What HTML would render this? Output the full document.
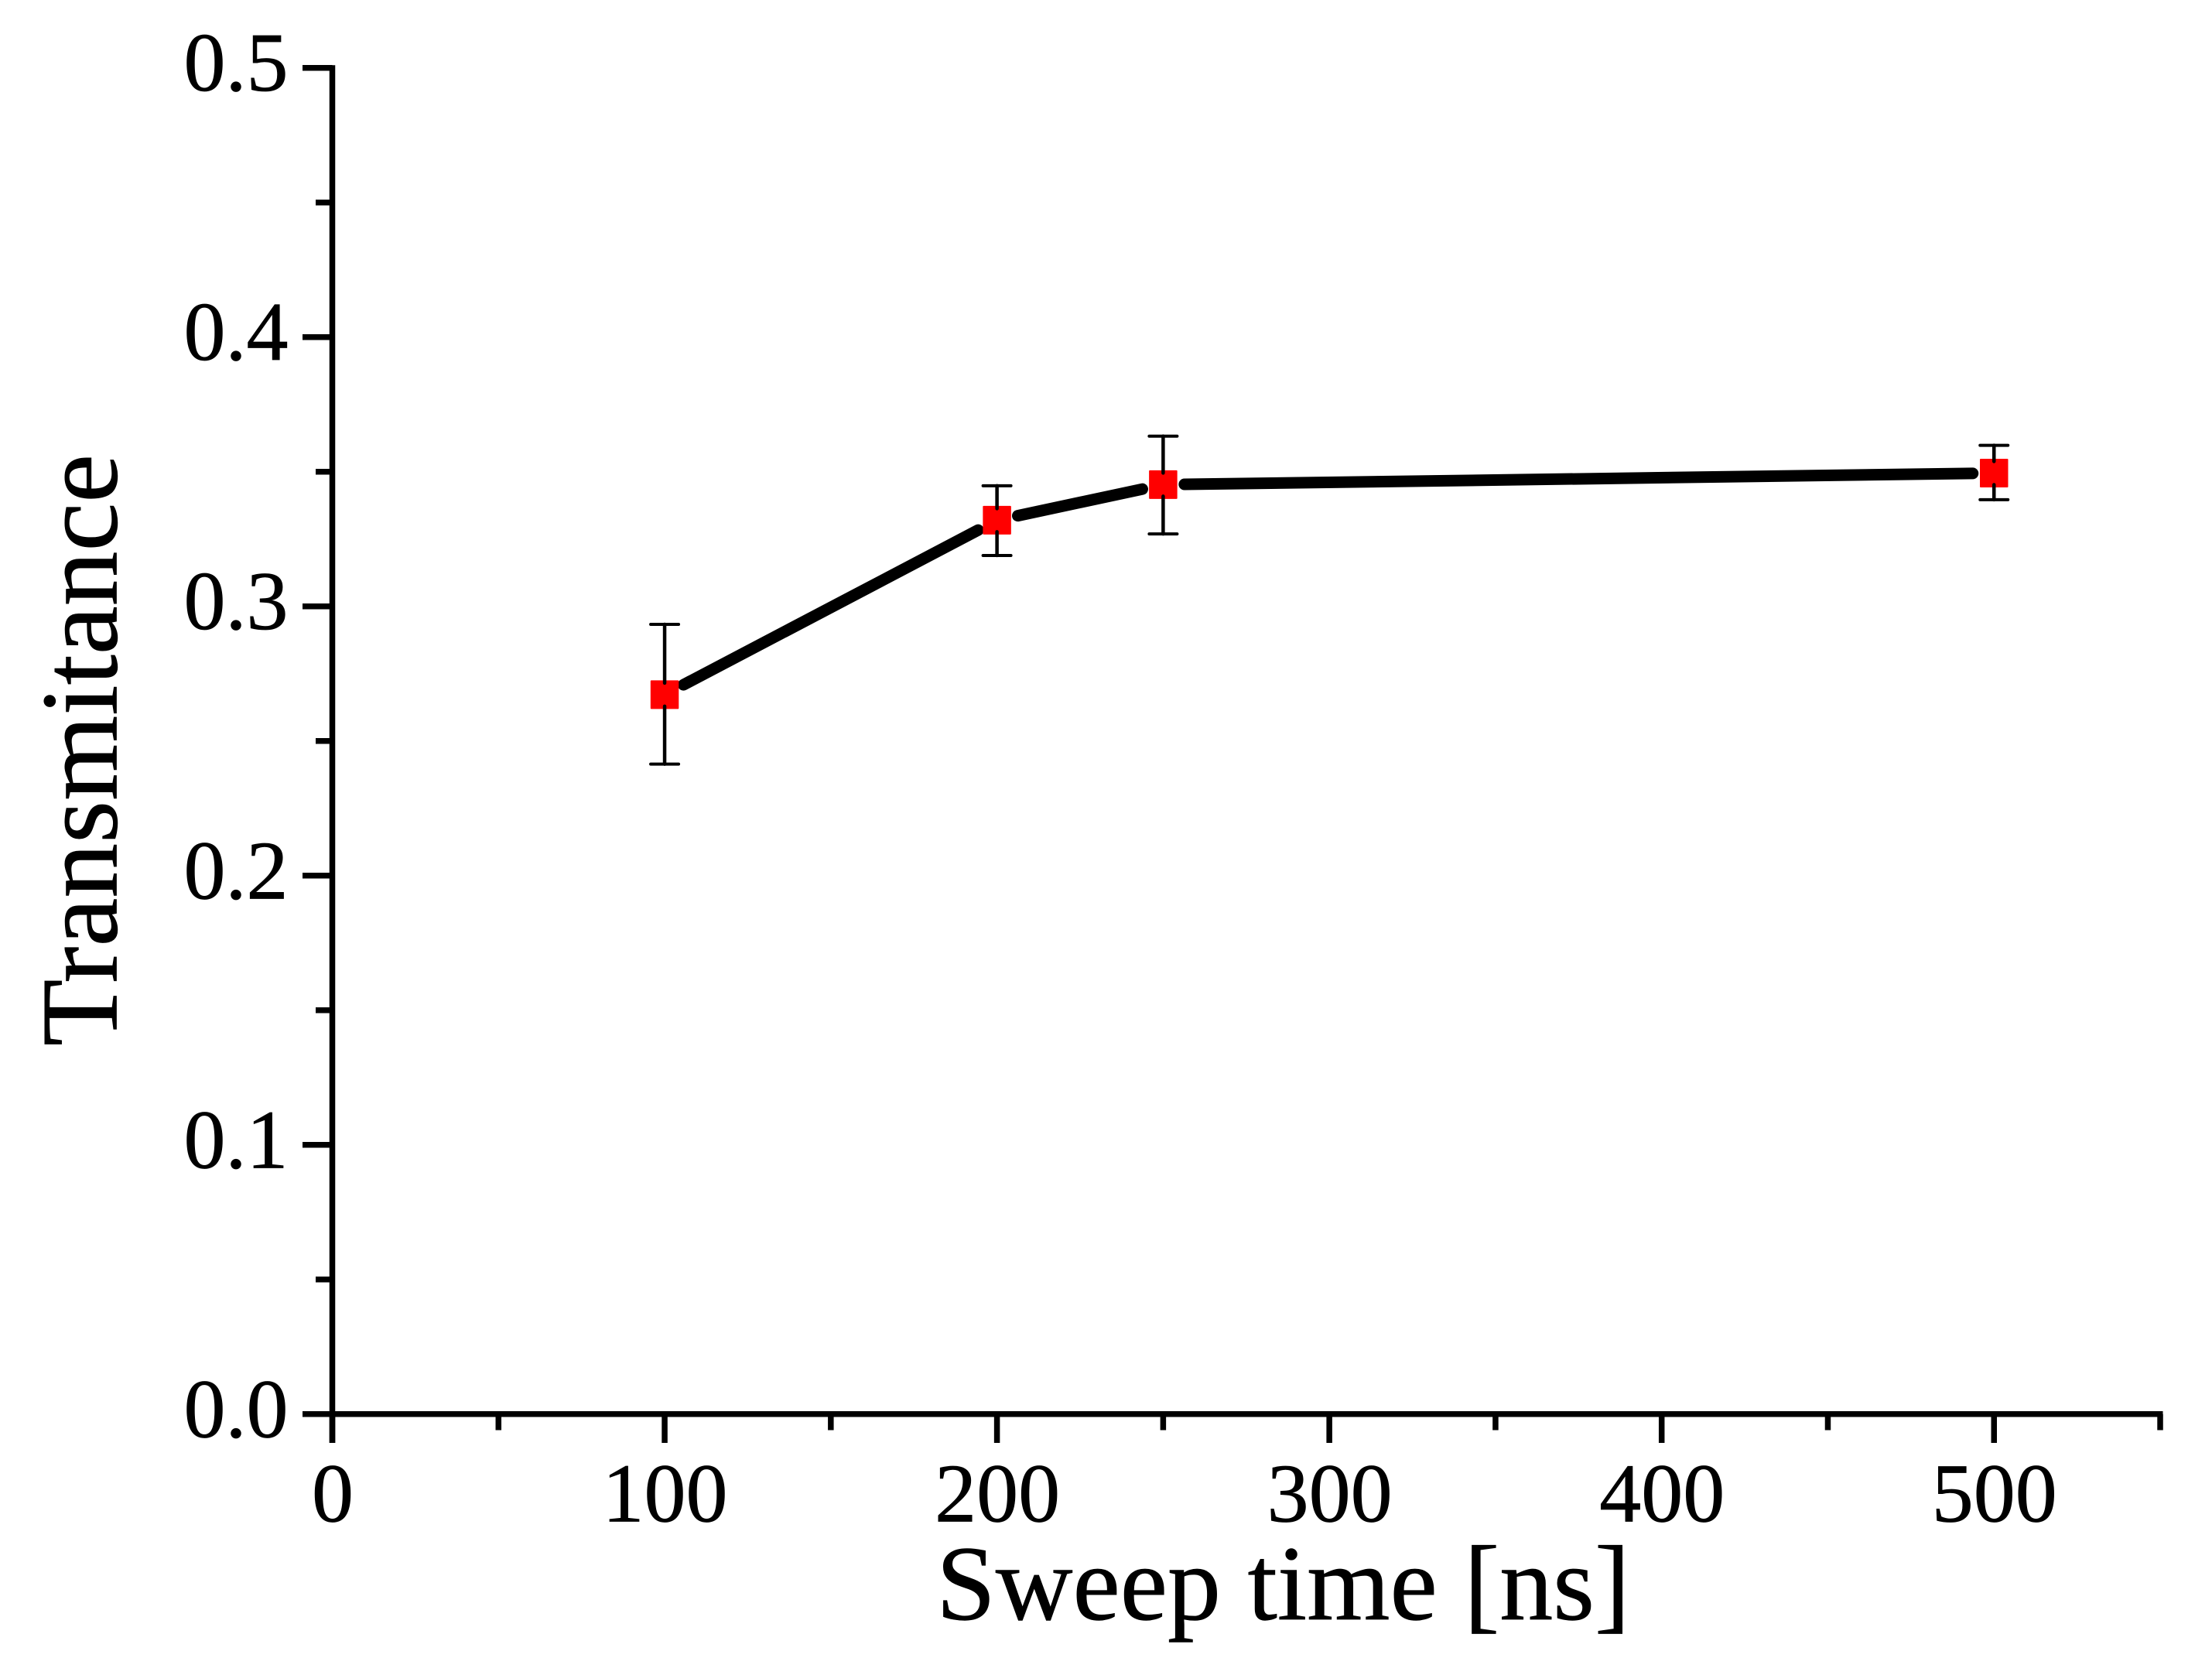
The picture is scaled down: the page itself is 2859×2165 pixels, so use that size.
<!DOCTYPE html>
<html lang="en">
<head>
<meta charset="utf-8">
<title>Transmitance vs Sweep time</title>
<style>
html,body{margin:0;padding:0;background:#fff;}
svg{display:block;}
text{font-family:"Liberation Serif","Times New Roman",serif;fill:#000;stroke:#000;stroke-width:0.7;}
</style>
</head>
<body>
<svg id="chart" xmlns="http://www.w3.org/2000/svg" width="2859" height="2165" viewBox="0 0 2859 2165" shape-rendering="geometricPrecision">
  <rect x="0" y="0" width="2859" height="2165" fill="#ffffff"/>
  <g id="axes"></g>
  <g id="series"></g>
  <text x="1658.5" y="2093" font-size="138" text-anchor="middle">Sweep time [ns]</text>
  <text transform="translate(150.5 969.5) rotate(-90)" font-size="141.5" text-anchor="middle">Transmitance</text>
</svg>
<script>
const sweepTimes = [100, 200, 250, 500];
const transmitance = [0.2672, 0.3320, 0.3452, 0.3495];
const errorUpper = [0.2933, 0.3448, 0.3632, 0.3598];
const errorLower = [0.2414, 0.3189, 0.3269, 0.3396];
const xMajorTicks = [0, 100, 200, 300, 400, 500];
const xMinorTicks = [50, 150, 250, 350, 450, 550];
const yMajorTicks = [0, 0.1, 0.2, 0.3, 0.4, 0.5];
const yMinorTicks = [0.05, 0.15, 0.25, 0.35, 0.45];
const xTickLabels = ['0', '100', '200', '300', '400', '500'];
const yTickLabels = ['0.0', '0.1', '0.2', '0.3', '0.4', '0.5'];

const NS = 'http://www.w3.org/2000/svg';
const axesGroup = document.getElementById('axes');
const seriesGroup = document.getElementById('series');

function xScale(v) { return 429.5 + v * 4.2955; }
function yScale(v) { return 1827.8 - v * 3480.2; }

function makeLine(parent, x1, y1, x2, y2, width, cap) {
  const el = document.createElementNS(NS, 'line');
  el.setAttribute('x1', x1);
  el.setAttribute('y1', y1);
  el.setAttribute('x2', x2);
  el.setAttribute('y2', y2);
  el.setAttribute('stroke', '#000');
  el.setAttribute('stroke-width', width);
  el.setAttribute('stroke-linecap', cap);
  parent.appendChild(el);
  return el;
}

function makeText(parent, x, y, anchor, content) {
  const el = document.createElementNS(NS, 'text');
  el.setAttribute('x', x);
  el.setAttribute('y', y);
  el.setAttribute('font-size', '108');
  el.setAttribute('text-anchor', anchor);
  el.textContent = content;
  parent.appendChild(el);
  return el;
}

const yAxisLine = makeLine(axesGroup, xScale(0), yScale(0.5) - 3.5, xScale(0), 1865, 7.5, 'butt');



const xAxisLine = makeLine(axesGroup, 391, yScale(0), xScale(550) + 3.5, yScale(0), 7.5, 'butt');



yMajorTicks.forEach(function (v, i) {
  const y = yScale(v);
  const tick = makeLine(axesGroup, 391, y, xScale(0), y, 7.5, 'butt');
  
  
  const label = makeText(axesGroup, 372.5, y + 29.5, 'end', yTickLabels[i]);
  
  
});

yMinorTicks.forEach(function (v) {
  const y = yScale(v);
  const tick = makeLine(axesGroup, 408, y, xScale(0), y, 7.5, 'butt');
  
  
});

xMajorTicks.forEach(function (v, i) {
  const x = xScale(v);
  const tick = makeLine(axesGroup, x, yScale(0), x, 1865, 7.5, 'butt');
  
  
  const label = makeText(axesGroup, x + 0.5, 1966.5, 'middle', xTickLabels[i]);
  
  
});

xMinorTicks.forEach(function (v) {
  const x = xScale(v);
  const tick = makeLine(axesGroup, x, yScale(0), x, 1848.5, 7.5, 'butt');
  
  
});

const markerGap = 27.5;
for (let i = 0; i < sweepTimes.length - 1; i++) {
  const x1 = xScale(sweepTimes[i]);
  const y1 = yScale(transmitance[i]);
  const x2 = xScale(sweepTimes[i + 1]);
  const y2 = yScale(transmitance[i + 1]);
  const len = Math.hypot(x2 - x1, y2 - y1);
  const ux = (x2 - x1) / len;
  const uy = (y2 - y1) / len;
  const seg = makeLine(seriesGroup, x1 + ux * markerGap, y1 + uy * markerGap, x2 - ux * markerGap, y2 - uy * markerGap, 15, 'round');
  
  
}

sweepTimes.forEach(function (t, i) {
  const x = xScale(t);
  const y = yScale(transmitance[i]);
  const yTop = yScale(errorUpper[i]);
  const yBot = yScale(errorLower[i]);

  const marker = document.createElementNS(NS, 'rect');
  marker.setAttribute('x', x - 18.25);
  marker.setAttribute('y', y - 18.5);
  marker.setAttribute('width', 36.5);
  marker.setAttribute('height', 37);
  marker.setAttribute('rx', 1);
  marker.setAttribute('fill', '#ff0000');
  
  
  seriesGroup.appendChild(marker);

  const stemTop = makeLine(seriesGroup, x, yTop, x, y - 15, 4.5, 'round');
  
  

  const stemBot = makeLine(seriesGroup, x, yBot, x, y + 15, 4.5, 'round');
  
  

  const capTop = makeLine(seriesGroup, x - 18, yTop, x + 18, yTop, 4, 'round');
  
  

  const capBot = makeLine(seriesGroup, x - 18, yBot, x + 18, yBot, 4, 'round');
  
  
});
</script>
</body>
</html>
